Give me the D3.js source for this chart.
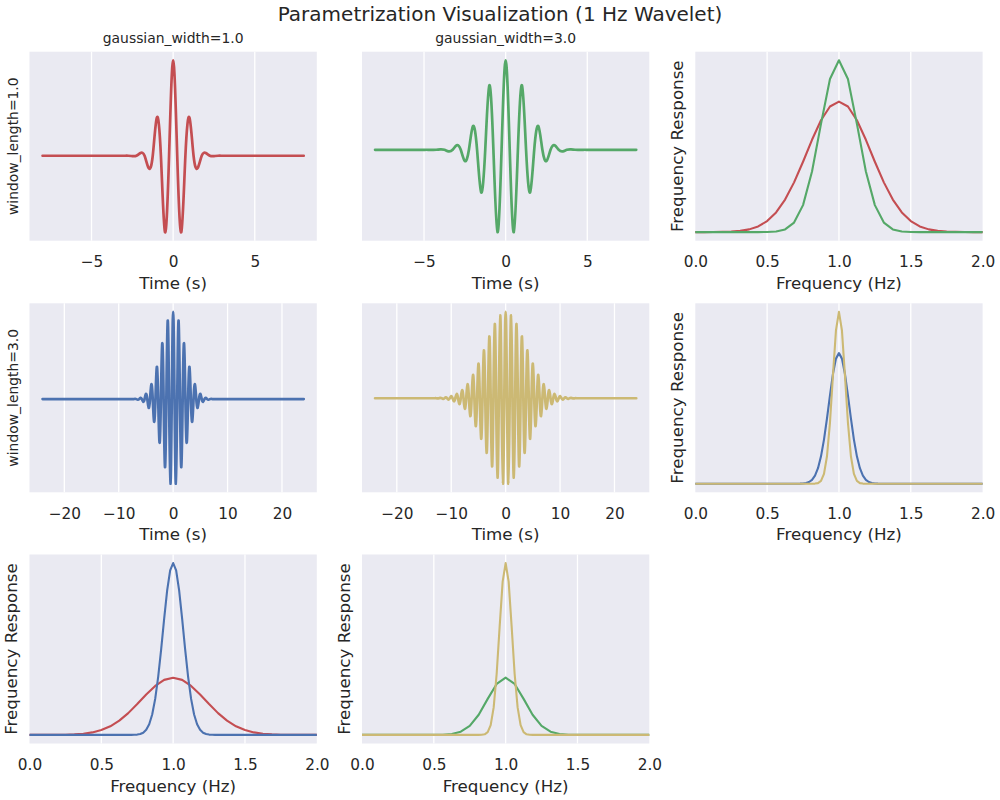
<!DOCTYPE html>
<html><head><meta charset="utf-8">
<script src="https://cdn.jsdelivr.net/npm/d3@7"></script>
<style>
body{margin:0;background:#fff}
svg{display:block}
text{font-family:"DejaVu Sans",sans-serif;fill:#262626}
</style>
</head><body>
<svg id="c" width="1000" height="800"></svg>
<script>
// ---------------- data ----------------
const suptitle = "Parametrization Visualization (1 Hz Wavelet)";
const colTitles = ["gaussian_width=1.0", "gaussian_width=3.0"];
const rowLabels = ["window_length=1.0", "window_length=3.0"];
const timeLabel = "Time (s)";
const freqLabel = "Frequency (Hz)";
const respLabel = "Frequency Response";

const timeTicksShort = [-5, 0, 5];
const timeTicksLong = [-20, -10, 0, 10, 20];
const freqTicks = [0, 0.5, 1.0, 1.5, 2.0];

// wavelet time spans (s) and sampling of the drawn curves
const shortSpan = 8;   // window_length=1.0 -> -8..8 s
const longSpan = 24;   // window_length=3.0 -> -24..24 s
const quarterPeriod = 0.25; // 1 Hz carrier: extrema every 0.5 s, zero crossings in between

// signed extrema of each (symmetric) wavelet at t = 0, 0.5, 1.0, ... s
const redExtrema = [1.0, -0.80, 0.40, -0.13, 0.028, -0.004];
const greenExtrema = [1.0, -0.92, 0.72, -0.475, 0.265, -0.125, 0.05, -0.017, 0.005, -0.001];
const blueExtrema = [1.0, -0.97, 0.90, -0.78, 0.64, -0.50, 0.37, -0.26, 0.17, -0.10, 0.06, -0.03, 0.015, -0.007, 0.003, -0.001];
const yellowExtrema = [1.0, -0.99, 0.96, -0.92, 0.86, -0.79, 0.715, -0.633, 0.555, -0.47, 0.40, -0.323, 0.27, -0.207, 0.162, -0.122, 0.094, -0.068, 0.05, -0.035, 0.024, -0.016, 0.011, -0.007, 0.004, -0.002];

// frequency responses, common scale. Coarse grid: f = k/16 (k=0..32); fine grid: f = k/48 (k=0..96)
const coarseStep = 1 / 16;
const fineStep = 1 / 48;
const redResp = [0, 0, 0.0001, 0.0004, 0.0010, 0.0024, 0.0053, 0.0111, 0.0214, 0.0382, 0.0630, 0.0964, 0.1364, 0.1789, 0.2168, 0.2434, 0.2530,
  0.2434, 0.2168, 0.1789, 0.1364, 0.0964, 0.0630, 0.0382, 0.0214, 0.0111, 0.0053, 0.0024, 0.0010, 0.0004, 0.0001, 0, 0];
const greenResp = [0, 0, 0, 0, 0, 0, 0, 0, 0.0002, 0.0012, 0.0052, 0.0185, 0.0523, 0.1175, 0.2098, 0.2967, 0.3330,
  0.2967, 0.2098, 0.1175, 0.0523, 0.0185, 0.0052, 0.0012, 0.0002, 0, 0, 0, 0, 0, 0, 0, 0];
const blueResp = [
  0, 0, 0, 0, 0, 0, 0, 0, 0, 0, 0, 0, 0, 0, 0, 0, 0, 0, 0, 0, 0, 0, 0, 0, 0, 0, 0, 0, 0, 0, 0, 0, 0, 0,
  0.0002, 0.0005, 0.0014, 0.0040, 0.0099, 0.0226, 0.0473, 0.0904, 0.1593, 0.2569, 0.3796, 0.5145, 0.6390, 0.7280,
  0.7600,
  0.7280, 0.6390, 0.5145, 0.3796, 0.2569, 0.1593, 0.0904, 0.0473, 0.0226, 0.0099, 0.0040, 0.0014, 0.0005, 0.0002,
  0, 0, 0, 0, 0, 0, 0, 0, 0, 0, 0, 0, 0, 0, 0, 0, 0, 0, 0, 0, 0, 0, 0, 0, 0, 0, 0, 0, 0, 0, 0, 0, 0, 0];
const yellowResp = [
  0, 0, 0, 0, 0, 0, 0, 0, 0, 0, 0, 0, 0, 0, 0, 0, 0, 0, 0, 0, 0, 0, 0, 0, 0, 0, 0, 0, 0, 0, 0, 0, 0, 0, 0, 0, 0, 0, 0,
  0.0001, 0.0007, 0.0036, 0.0161, 0.0569, 0.1600, 0.3560, 0.6320, 0.8920,
  1.0000,
  0.8920, 0.6320, 0.3560, 0.1600, 0.0569, 0.0161, 0.0036, 0.0007, 0.0001,
  0, 0, 0, 0, 0, 0, 0, 0, 0, 0, 0, 0, 0, 0, 0, 0, 0, 0, 0, 0, 0, 0, 0, 0, 0, 0, 0, 0, 0, 0, 0, 0, 0, 0, 0, 0, 0, 0, 0];

const colors = { red: "#C44E52", green: "#55A868", blue: "#4C72B0", yellow: "#CCB974" };

// ---------------- layout ----------------
const W = 1000, H = 800;
const colLeft = [29.5, 362, 695.3];
const rowTop = [51.7, 303.3, 554.5];
const axW = 287.3, axH = 189;

const svg = d3.select("#c");

// build a symmetric wavelet polyline from extrema (zero crossings midway between extrema)
function waveletPoints(ext, span) {
  const n = Math.round(span / quarterPeriod);
  const pts = [];
  for (let k = -n; k <= n; k++) {
    let v = 0;
    if (k % 2 === 0) {
      const j = Math.abs(k) / 2;
      v = j < ext.length ? ext[j] : 0;
    }
    pts.push([k * quarterPeriod, v]);
  }
  return pts;
}
function respPoints(vals, step) { return vals.map((v, i) => [i * step, v]); }

function fmtTick(v) {
  return (v < 0 ? "\u2212" : "") + String(Math.abs(v));
}

let clipId = 0;
function panel(r, c, opts) {
  const x0 = colLeft[c], y0 = rowTop[r];
  const g = svg.append("g").attr("transform", `translate(${x0},${y0})`);
  g.append("rect").attr("width", axW).attr("height", axH).attr("fill", "#EAEAF2");
  const x = d3.scaleLinear().domain(opts.xDomain).range([0, axW]);
  const allVals = opts.series.flatMap(s => s.pts.map(p => p[1]));
  const lo = d3.min(allVals), hi = d3.max(allVals), pad = (hi - lo) * 0.05;
  const y = d3.scaleLinear().domain([lo - pad, hi + pad]).range([axH, 0]);

  // grid
  g.selectAll("line.grid").data(opts.ticks.filter(t => x(t) > 1 && x(t) < axW - 1)).enter()
    .append("line").attr("x1", d => x(d)).attr("x2", d => x(d)).attr("y1", 0).attr("y2", axH)
    .attr("stroke", "#fff").attr("stroke-width", 1.3);

  // x axis tick labels via d3 axis
  const axis = d3.axisBottom(x).tickValues(opts.ticks).tickSize(0).tickPadding(0).tickFormat(opts.fmt);
  const ag = g.append("g").attr("transform", `translate(0,${axH})`).call(axis);
  ag.select(".domain").remove();
  ag.selectAll("text").attr("dy", null).attr("y", 26.7)
    .style("font-family", "DejaVu Sans").style("font-size", "15.3px").attr("fill", "#262626");

  g.append("text").attr("x", axW / 2).attr("y", axH + 48).attr("text-anchor", "middle")
    .style("font-size", "16.7px").text(opts.xLabel);

  const id = "clip" + (clipId++);
  g.append("clipPath").attr("id", id).append("rect").attr("width", axW).attr("height", axH);
  const lg = g.append("g").attr("clip-path", `url(#${id})`);
  opts.series.forEach(s => {
    const line = d3.line().x(d => x(d[0])).y(d => y(d[1])).curve(s.curve || d3.curveLinear);
    lg.append("path").attr("d", line(s.pts)).attr("fill", "none").attr("stroke", s.color)
      .attr("stroke-width", s.width).attr("stroke-linejoin", "round").attr("stroke-linecap", "round");
  });

  if (opts.title) {
    g.append("text").attr("x", axW / 2).attr("y", -8.4).attr("text-anchor", "middle")
      .style("font-size", "13.9px").text(opts.title);
  }
  if (opts.yLabel) {
    g.append("text").attr("transform", `translate(${-opts.yLabelOff},${axH / 2}) rotate(-90)`)
      .attr("text-anchor", "middle").style("font-size", opts.yLabelSize).text(opts.yLabel);
  }
}

svg.append("text").attr("x", W / 2).attr("y", 20.5).attr("text-anchor", "middle")
  .style("font-size", "20px").text(suptitle);

const timeFmt = d => fmtTick(d);
const freqFmt = d => d3.format(".1f")(d);
const wlW = 2.7, frW = 2.1;

// row 1
panel(0, 0, { xDomain: [-shortSpan * 1.1, shortSpan * 1.1], ticks: timeTicksShort, fmt: timeFmt, xLabel: timeLabel,
  title: colTitles[0], yLabel: rowLabels[0], yLabelOff: 12, yLabelSize: "13.9px",
  series: [{ pts: waveletPoints(redExtrema, shortSpan), color: colors.red, width: wlW, curve: d3.curveNatural }] });
panel(0, 1, { xDomain: [-shortSpan * 1.1, shortSpan * 1.1], ticks: timeTicksShort, fmt: timeFmt, xLabel: timeLabel,
  title: colTitles[1],
  series: [{ pts: waveletPoints(greenExtrema, shortSpan), color: colors.green, width: wlW, curve: d3.curveNatural }] });
panel(0, 2, { xDomain: [0, 2], ticks: freqTicks, fmt: freqFmt, xLabel: freqLabel, yLabel: respLabel, yLabelOff: 12.5, yLabelSize: "16.7px",
  series: [{ pts: respPoints(redResp, coarseStep), color: colors.red, width: frW },
           { pts: respPoints(greenResp, coarseStep), color: colors.green, width: frW }] });
// row 2
panel(1, 0, { xDomain: [-longSpan * 1.1, longSpan * 1.1], ticks: timeTicksLong, fmt: timeFmt, xLabel: timeLabel,
  yLabel: rowLabels[1], yLabelOff: 12, yLabelSize: "13.9px",
  series: [{ pts: waveletPoints(blueExtrema, longSpan), color: colors.blue, width: wlW, curve: d3.curveNatural }] });
panel(1, 1, { xDomain: [-longSpan * 1.1, longSpan * 1.1], ticks: timeTicksLong, fmt: timeFmt, xLabel: timeLabel,
  series: [{ pts: waveletPoints(yellowExtrema, longSpan), color: colors.yellow, width: wlW, curve: d3.curveNatural }] });
panel(1, 2, { xDomain: [0, 2], ticks: freqTicks, fmt: freqFmt, xLabel: freqLabel, yLabel: respLabel, yLabelOff: 12.5, yLabelSize: "16.7px",
  series: [{ pts: respPoints(blueResp, fineStep), color: colors.blue, width: frW },
           { pts: respPoints(yellowResp, fineStep), color: colors.yellow, width: frW }] });
// row 3
panel(2, 0, { xDomain: [0, 2], ticks: freqTicks, fmt: freqFmt, xLabel: freqLabel, yLabel: respLabel, yLabelOff: 12.5, yLabelSize: "16.7px",
  series: [{ pts: respPoints(redResp, coarseStep), color: colors.red, width: frW },
           { pts: respPoints(blueResp, fineStep), color: colors.blue, width: frW }] });
panel(2, 1, { xDomain: [0, 2], ticks: freqTicks, fmt: freqFmt, xLabel: freqLabel, yLabel: respLabel, yLabelOff: 12.5, yLabelSize: "16.7px",
  series: [{ pts: respPoints(greenResp, coarseStep), color: colors.green, width: frW },
           { pts: respPoints(yellowResp, fineStep), color: colors.yellow, width: frW }] });
</script>
</body></html>
